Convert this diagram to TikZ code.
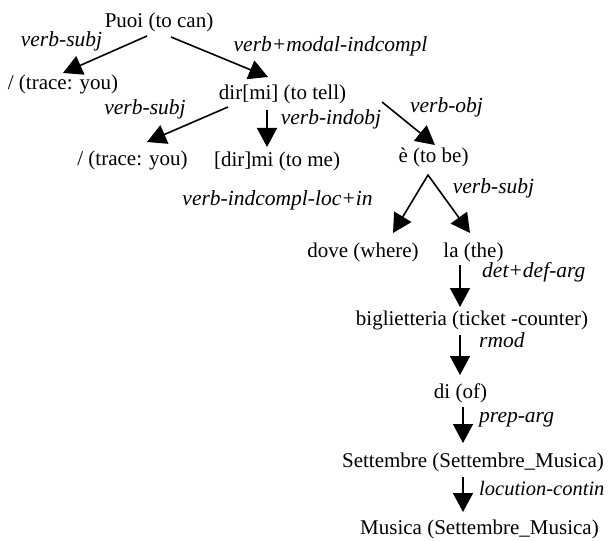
\documentclass[tikz,border=0pt]{standalone}
\usepackage{fontspec}
\setmainfont{Liberation Serif}
\usetikzlibrary{arrows.meta,calc}

\tikzset{
  word/.style={anchor=base,inner sep=0pt,font=\fontsize{21}{24}\selectfont},
  rel/.style={anchor=base,inner sep=0pt,font=\fontsize{21.5}{24}\selectfont\itshape},
  relw/.style={rel,anchor=base west},
  dep/.style={line width=1.6pt,-{Triangle[length=19pt,width=20pt]}},
}

\begin{document}
\begin{tikzpicture}[x=1pt,y=-1pt]
\useasboundingbox (0,0) rectangle (612,540);

% words of the sentence
\node[word] (puoi)   at (159,28)   {Puoi (to can)};
\node[word] (trA)    at (63,90)    {/ (trace: you)};
\node[word] (dir)    at (282.5,100){dir[mi] (to tell)};
\node[word] (trB)    at (132.5,165){/ (trace: you)};
\node[word] (dirmi)  at (277,167)  {[dir]mi (to me)};
\node[word] (essere) at (433.5,162){è (to be)};
\node[word] (dove)   at (363,257)  {dove (where)};
\node[word] (la)     at (473.5,257){la (the)};
\node[word] (bigl)   at (472,325)  {biglietteria (ticket -counter)};
\node[word] (di)     at (460.5,398){di (of)};
\node[word] (sett)   at (473,467)  {Settembre (Settembre\_Musica)};
\node[word] (musica) at (479.5,534){Musica (Settembre\_Musica)};

% relation labels
\node[rel]  (lA) at (61.5,47)   {verb-subj};
\node[rel]  (lB) at (330.5,52)  {verb+modal-indcompl};
\node[rel]  (lC) at (145,115)   {verb-subj};
\node[rel]  (lD) at (331,125)   {verb-indobj};
\node[rel]  (lE) at (446.5,113) {verb-obj};
\node[rel]  (lF) at (277.5,205) {verb-indcompl-loc+in};
\node[rel]  (lG) at (493.5,193) {verb-subj};
\node[relw] (lH) at (482,277)   {det+def-arg};
\node[relw] (lI) at (479,347)   {rmod};
\node[relw] (lJ) at (479,422)   {prep-arg};
\node[relw,font=\fontsize{20.5}{24}\selectfont\itshape] (lK) at (479,495) {locution-contin};

% dependency arrows
\draw[dep] ($(puoi.base)+(-12,8)$)    -- ($(trA.base)+(0,-17)$);
\draw[dep] ($(puoi.base)+(12,9)$)     -- ($(dir.base)+(-14.5,-23)$);
\draw[dep] ($(dir.base)+(-54.5,7)$)   -- ($(trB.base)+(14.5,-23)$);
\draw[dep] ($(dir.base)+(-15.5,10)$)  -- ($(dirmi.base)+(-10,-20)$);
\draw[dep] ($(dir.base)+(99.5,2)$)    -- ($(essere.base)+(1.5,-17)$);
\coordinate (fork) at ($(essere.base)+(-5.5,13)$);
\fill (fork) circle (1pt);
\draw[dep] (fork) -- ($(dove.base)+(30,-24)$);
\draw[dep] (fork) -- ($(la.base)+(-3.5,-24)$);
\draw[dep] ($(la.base)+(-13.5,8)$)    -- ($(bigl.base)+(-12,-18)$);
\draw[dep] ($(bigl.base)+(-12,10)$)   -- ($(di.base)+(-0.5,-23)$);
\draw[dep] ($(di.base)+(2.5,9)$)      -- ($(sett.base)+(-10,-24)$);
\draw[dep] ($(sett.base)+(-10,10)$)   -- ($(musica.base)+(-16.5,-22)$);
\end{tikzpicture}
\end{document}
